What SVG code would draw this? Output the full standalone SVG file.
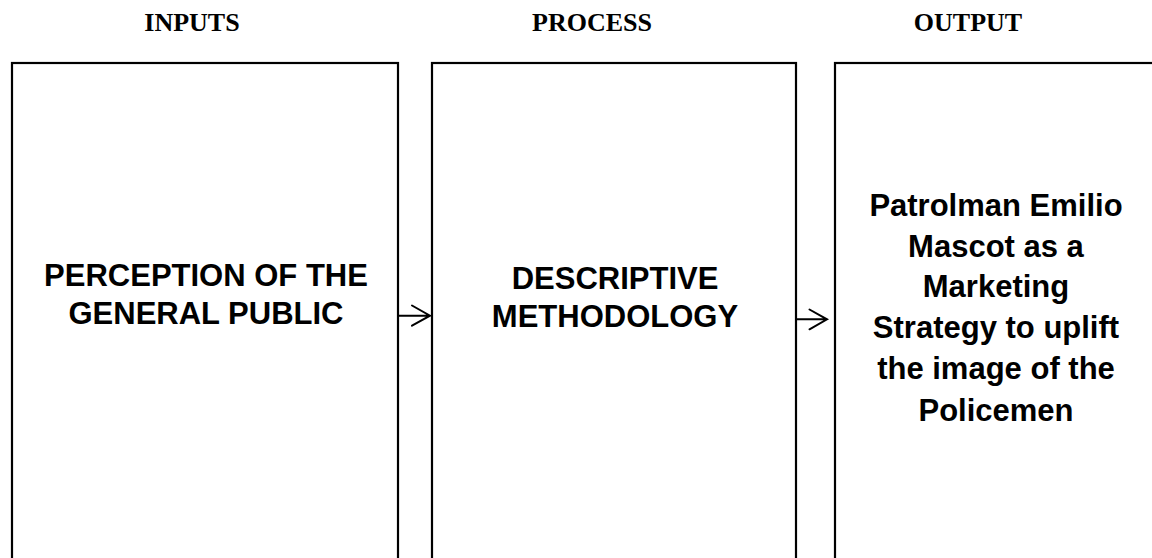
<svg xmlns="http://www.w3.org/2000/svg" width="1152" height="558" viewBox="0 0 1152 558">
<style>
.hdr{font-family:"Liberation Serif","Times New Roman",serif;font-weight:bold;font-size:26px;fill:#000;text-anchor:middle}
.lbl{font-family:"Liberation Sans",Arial,sans-serif;font-weight:bold;font-size:31px;fill:#000;text-anchor:middle}
.box{fill:#fff;stroke:#000;stroke-width:2.2}
.con{fill:none;stroke:#000;stroke-width:2;stroke-linecap:round;stroke-linejoin:miter}
</style>
<rect width="1152" height="558" fill="#fff"/>
<text class="hdr" x="192" y="31">INPUTS</text>
<text class="hdr" x="592" y="31">PROCESS</text>
<text class="hdr" x="968" y="31">OUTPUT</text>
<g id="inputs">
<rect class="box" x="12" y="63" width="386" height="520"/>
<text class="lbl" x="206" y="286">PERCEPTION OF THE</text>
<text class="lbl" x="206" y="323.5">GENERAL PUBLIC</text>
</g>
<g id="process">
<rect class="box" x="432" y="63" width="364" height="520"/>
<text class="lbl" x="615" y="288.5">DESCRIPTIVE</text>
<text class="lbl" x="615" y="326.5">METHODOLOGY</text>
</g>
<g id="output">
<rect class="box" x="835" y="63" width="330" height="520"/>
<text class="lbl" x="996" y="216">Patrolman Emilio</text>
<text class="lbl" x="996" y="257">Mascot as a</text>
<text class="lbl" x="996" y="297">Marketing</text>
<text class="lbl" x="996" y="338">Strategy to uplift</text>
<text class="lbl" x="996" y="379">the image of the</text>
<text class="lbl" x="996" y="420.5">Policemen</text>
</g>
<g id="connectors">
<path class="con" d="M398 315.7H429.5M412 305.5L430 315.7L412 325.7"/>
<path class="con" d="M796 319.3H826.5M809.5 309.5L827 319.3L809.5 329.3"/>
</g>
</svg>
